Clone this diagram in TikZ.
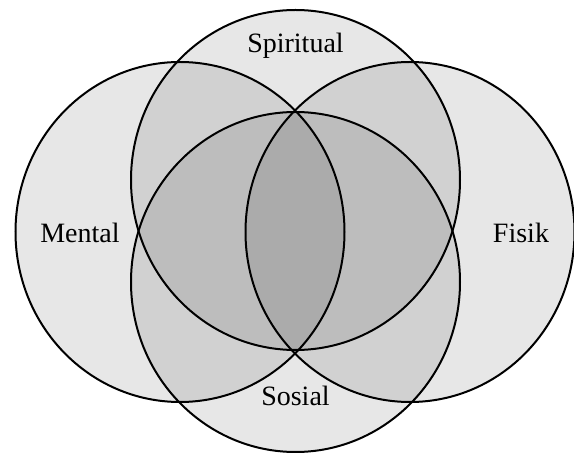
\documentclass[tikz,border=0pt]{standalone}
\usepackage{fontspec}
\setmainfont{Liberation Serif}
\usetikzlibrary{calc}

\tikzset{
  ringfill/.style={fill=black, fill opacity=0.095},
  ringline/.style={draw=black, line width=2pt},
  lbl/.style={font=\fontsize{28}{34}\selectfont, inner sep=0pt}
}

\begin{document}
\begin{tikzpicture}[x=1pt, y=-1pt]
  \useasboundingbox (0,0) rectangle (574,454);

  \def\rx{164.5}
  \def\ry{170}

  % centres of the four rings
  \coordinate (spiritual) at (295.5,180);
  \coordinate (mental)    at (180,232);
  \coordinate (fisik)     at (410,232);
  \coordinate (sosial)    at (295.5,282);

  % shading: overlaps get darker
  \foreach \c in {spiritual,mental,fisik,sosial}
    \path[ringfill] (\c) ellipse [x radius=\rx, y radius=\ry];

  % outlines
  \foreach \c in {spiritual,mental,fisik,sosial}
    \draw[ringline] (\c) ellipse [x radius=\rx, y radius=\ry];

  % labels
  \node[lbl] (tspiritual) at (295.5,46) {Spiritual};
  \node[lbl] (tmental)    at (80,232.5) {Mental};
  \node[lbl] (tfisik)     at (521,232.5) {Fisik};
  \node[lbl] (tsosial)    at (295.5,396) {Sosial};
\end{tikzpicture}
\end{document}
